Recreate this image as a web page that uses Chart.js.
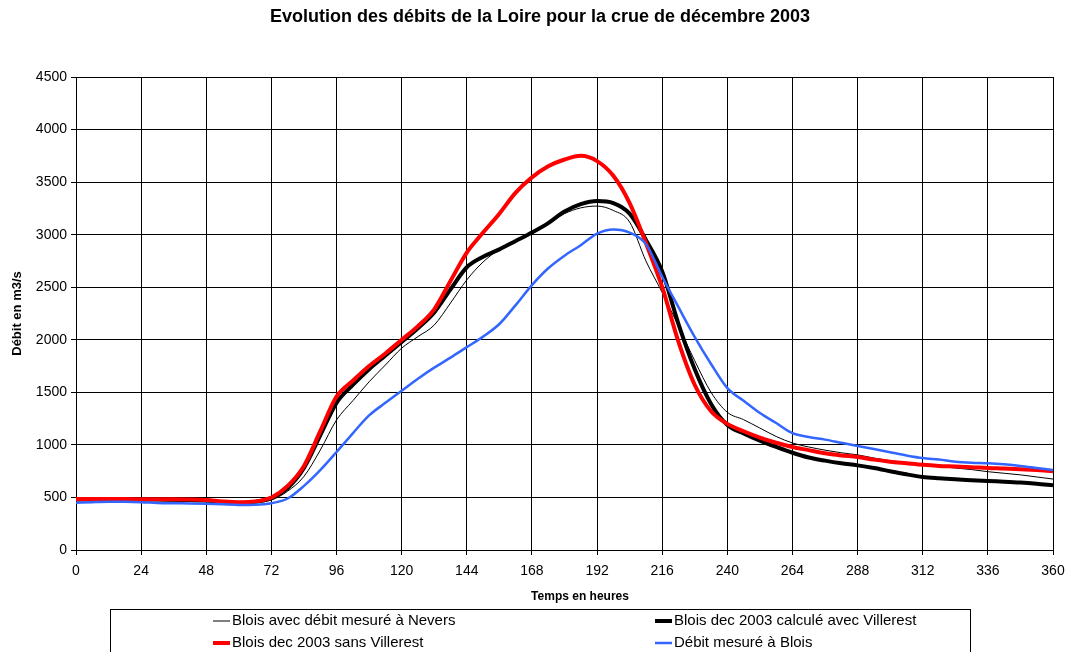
<!DOCTYPE html>
<html lang="fr">
<head>
<meta charset="UTF-8">
<title>Crue de la Loire - décembre 2003</title>
<script src="https://cdn.jsdelivr.net/npm/chart.js"></script>
<style>
  body { margin: 0; background: #fff; }
  canvas { display: block; }
</style>
</head>
<body>
<canvas id="crueChart" width="1071" height="652"></canvas>
<script>
  // heures depuis le début de l'épisode (pas de 6 h)
  const hours = [];
  for (let h = 0; h <= 360; h += 6) hours.push(h);

  // débits en m3/s
  const bloisNevers = [470, 470, 470, 470, 470, 470, 468, 465, 460, 450, 445, 450, 475, 560, 700, 950,
    1237, 1420, 1600, 1760, 1920, 2030, 2140, 2350, 2570, 2740, 2860, 2950, 3020, 3110, 3200, 3255,
    3272, 3230, 3120, 2750, 2450, 2130, 1800, 1500, 1310, 1240, 1160, 1080, 1018, 980, 950, 925,
    905, 875, 850, 830, 810, 795, 780, 765, 745, 730, 715, 695, 675];

  const bloisVillerest = [480, 480, 480, 480, 480, 480, 478, 475, 470, 455, 448, 458, 495, 590, 780, 1090,
    1400, 1570, 1720, 1850, 1980, 2110, 2260, 2480, 2690, 2790, 2860, 2940, 3020, 3110, 3220, 3290,
    3320, 3300, 3200, 2950, 2650, 2150, 1720, 1390, 1190, 1110, 1040, 980, 925, 880, 850, 825,
    805, 780, 750, 720, 695, 682, 672, 664, 656, 650, 642, 630, 615];

  const bloisSansVillerest = [485, 485, 485, 485, 483, 482, 482, 480, 475, 462, 455, 462, 500, 610, 800, 1130,
    1460, 1610, 1750, 1870, 2000, 2130, 2290, 2560, 2830, 3020, 3200, 3400, 3545, 3650, 3715, 3750,
    3700, 3560, 3300, 2920, 2500, 1980, 1570, 1320, 1200, 1130, 1070, 1020, 980, 950, 920, 900,
    885, 860, 840, 825, 810, 800, 795, 788, 780, 775, 768, 760, 750];

  const bloisMesure = [450, 455, 458, 458, 455, 448, 445, 443, 440, 435, 428, 430, 445, 490, 610, 760,
    932, 1110, 1280, 1400, 1515, 1630, 1735, 1830, 1930, 2030, 2150, 2330, 2520, 2680, 2800, 2900,
    3010, 3050, 3020, 2910, 2600, 2310, 2026, 1770, 1540, 1420, 1303, 1208, 1112, 1075, 1050, 1020,
    990, 960, 930, 900, 875, 860, 840, 830, 825, 815, 800, 780, 760];

  const seriesLabels = [
    'Blois avec débit mesuré à Nevers',
    'Blois dec 2003 calculé avec Villerest',
    'Blois dec 2003 sans Villerest',
    'Débit mesuré à Blois'
  ];

  const xTicks = [0, 24, 48, 72, 96, 120, 144, 168, 192, 216, 240, 264, 288, 312, 336, 360];
  const yTicks = [0, 500, 1000, 1500, 2000, 2500, 3000, 3500, 4000, 4500];

  const FONT = 'Arial, "Liberation Sans", sans-serif';

  function toPoints(values) {
    return values.map((v, i) => ({ x: hours[i], y: v }));
  }

  // titre, titres des axes et légende encadrée
  const decorPlugin = {
    id: 'decor',
    afterDraw(chart) {
      const ctx = chart.ctx;
      const area = chart.chartArea;
      ctx.save();
      ctx.fillStyle = '#000';

      ctx.font = 'bold 18px ' + FONT;
      ctx.textAlign = 'center';
      ctx.textBaseline = 'middle';
      ctx.fillText('Evolution des débits de la Loire pour la crue de décembre 2003', 540, 17);

      ctx.font = 'bold 12px ' + FONT;
      ctx.fillText('Temps en heures', 580, 597);

      ctx.save();
      ctx.font = 'bold 13px ' + FONT;
      ctx.translate(17, (area.top + area.bottom) / 2);
      ctx.rotate(-Math.PI / 2);
      ctx.fillText('Débit en m3/s', 0, 0);
      ctx.restore();

      // cadre de la légende
      ctx.strokeStyle = '#000';
      ctx.lineWidth = 1;
      ctx.strokeRect(110.5, 609.5, 860, 60);

      const cols = [213, 655];
      const rows = [621, 643];
      ctx.font = '15px ' + FONT;
      ctx.textAlign = 'left';
      chart.data.datasets.forEach((ds, i) => {
        const x = cols[i % 2];
        const y = rows[Math.floor(i / 2)];
        ctx.strokeStyle = ds.borderColor;
        ctx.lineWidth = ds.borderWidth;
        ctx.beginPath();
        ctx.moveTo(x, y);
        ctx.lineTo(x + 17, y);
        ctx.stroke();
        ctx.fillText(ds.label, x + 19, y);
      });
      ctx.restore();
    }
  };

  const ctx = document.getElementById('crueChart').getContext('2d');
  new Chart(ctx, {
    type: 'line',
    data: {
      datasets: [
        { label: seriesLabels[0], data: toPoints(bloisNevers), borderColor: '#000000', borderWidth: 1, order: 4 },
        { label: seriesLabels[1], data: toPoints(bloisVillerest), borderColor: '#000000', borderWidth: 4, order: 3 },
        { label: seriesLabels[2], data: toPoints(bloisSansVillerest), borderColor: '#ff0000', borderWidth: 4, order: 2 },
        { label: seriesLabels[3], data: toPoints(bloisMesure), borderColor: '#3366ff', borderWidth: 2.5, order: 1 }
      ]
    },
    options: {
      responsive: false,
      animation: false,
      events: [],
      layout: { padding: { top: 77, right: 18, left: 0, bottom: 0 } },
      elements: {
        point: { radius: 0 },
        line: { cubicInterpolationMode: 'monotone', fill: false }
      },
      plugins: {
        legend: { display: false },
        title: { display: false },
        tooltip: { enabled: false }
      },
      scales: {
        x: {
          type: 'linear',
          min: 0,
          max: 360,
          afterFit(scale) {
            scale.height = 102;
            scale.paddingLeft = 0;
            scale.paddingRight = 0;
          },
          afterBuildTicks(scale) { scale.ticks = xTicks.map(v => ({ value: v })); },
          grid: { color: '#000', lineWidth: 1, tickLength: 5 },
          border: { color: '#000', width: 1 },
          ticks: {
            color: '#000', padding: 8, maxRotation: 0, autoSkip: false,
            font: { family: FONT, size: 14 },
            callback: v => String(v)
          }
        },
        y: {
          min: 0,
          max: 4500,
          afterFit(scale) { scale.width = 76; },
          afterBuildTicks(scale) { scale.ticks = yTicks.map(v => ({ value: v })); },
          grid: { color: '#000', lineWidth: 1, tickLength: 5 },
          border: { color: '#000', width: 1 },
          ticks: {
            color: '#000', padding: 4,
            font: { family: FONT, size: 14 },
            callback: v => String(v)
          }
        }
      }
    },
    plugins: [decorPlugin]
  });
</script>
</body>
</html>
